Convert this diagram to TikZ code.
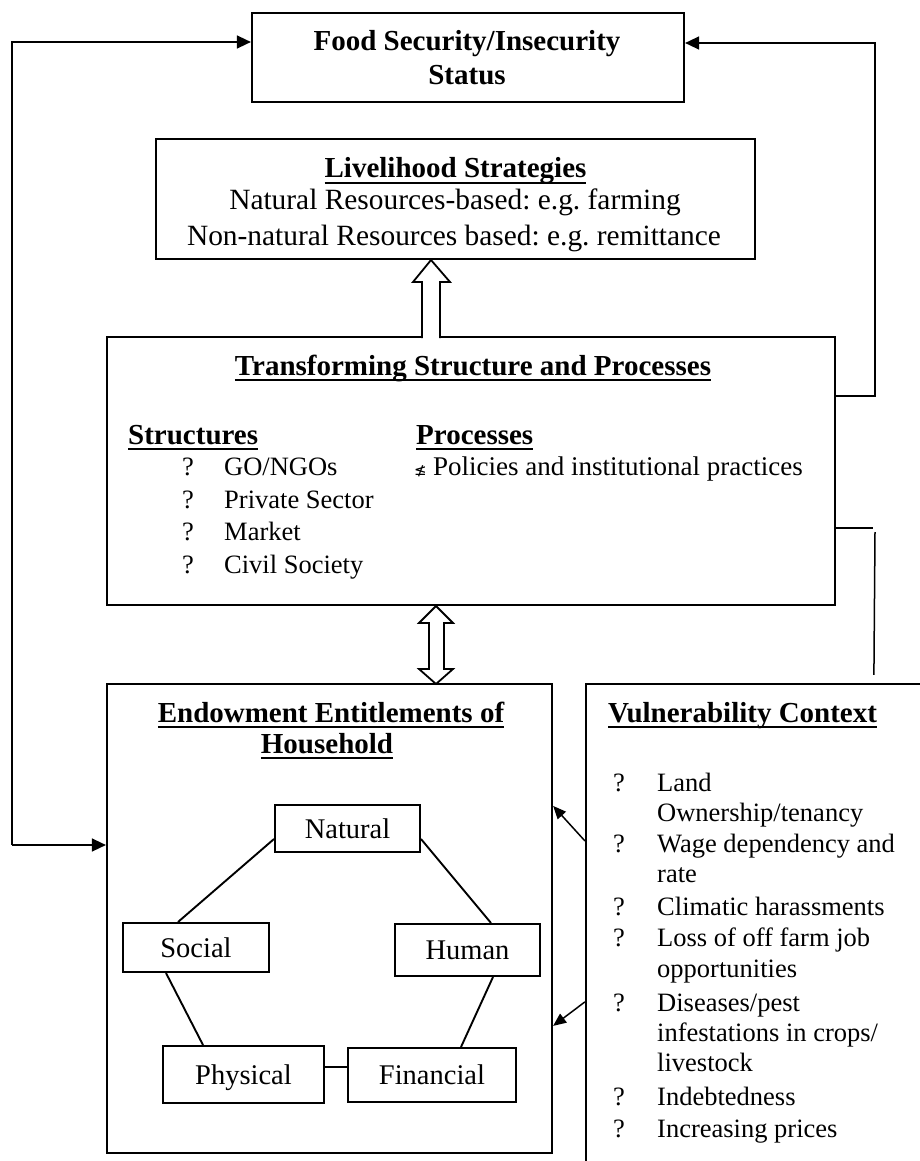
\documentclass[tikz,border=0pt]{standalone}
\usepackage{fontspec}
\setmainfont{Liberation Serif}
\newfontfamily\symfont{DejaVu Sans}
\usetikzlibrary{arrows.meta,calc}
\newcommand\ulx[1]{\setbox0=\hbox{#1}\rlap{\rule[-6pt]{\wd0}{2.2pt}}\box0}
\frenchspacing
\begin{document}
\begin{tikzpicture}[x=1pt,y=-1pt,line join=miter,
  box/.style={draw,line width=2.2pt,inner sep=0pt},
  inbox/.style={draw,line width=2pt,inner sep=0pt,font=\fontsize{28.5}{34}\selectfont\frenchspacing,text height=19pt,text depth=0pt},
  ttl/.style={font=\fontsize{29}{34}\selectfont\bfseries,anchor=base,inner sep=0pt},
  ttlw/.style={font=\fontsize{29}{34}\selectfont\bfseries,anchor=base west,inner sep=0pt},
  big/.style={font=\fontsize{29.4}{34}\selectfont\frenchspacing,anchor=base,inner sep=0pt},
  txt/.style={font=\fontsize{26.5}{30}\selectfont,anchor=base west,inner sep=0pt},
  link/.style={line width=1.9pt},
  fb/.style={line width=1.5pt,-{Triangle[length=14pt,width=13pt]}},
  vb/.style={line width=1.5pt,-{Triangle[length=13pt,width=11pt]}},
  hollow/.style={draw,line width=1.8pt,fill=white}]
\useasboundingbox (0,0) rectangle (920,1161);
\clip (0,0) rectangle (920,1161);
\fill[white] (0,0) rectangle (920,1161);

% main boxes
\node[box,minimum width=432pt,minimum height=89pt] (food) at (468,57.5) {};
\node[box,minimum width=599pt,minimum height=120pt] (live) at (455.5,199) {};
\node[box,minimum width=728pt,minimum height=268pt] (trans) at (471,471) {};
\node[box,minimum width=445pt,minimum height=469pt] (endow) at (329.5,918.5) {};
\node[box,minimum width=354pt,minimum height=501pt] (vul) at (763,934.5) {};

% food text
\node[ttl] (foodt1) at (467,51) {Food Security/Insecurity};
\node[ttl] (foodt2) at (467,85) {Status};

% livelihood text
\node[ttl] (livet) at (455.5,178) {\ulx{Livelihood Strategies}};
\node[big] (livel1) at (455,209) {Natural Resources-based: e.g. farming};
\node[big] (livel2) at (454,245) {Non-natural Resources based: e.g. remittance};

% transforming text
\node[ttl] (transt) at (473,375) {\ulx{Transforming Structure and Processes}};
\node[ttlw] (struct) at (128,444) {\ulx{Structures}};
\node[ttlw] (proc) at (416,444) {\ulx{Processes}};
\node[txt] (q1) at (182,475) {?};
\node[txt] (s1) at (224,475) {GO/NGOs};
\node[txt] (q2) at (182,508) {?};
\node[txt] (s2) at (224,508) {Private Sector};
\node[txt] (q3) at (182,540) {?};
\node[txt] (s3) at (224,540) {Market};
\node[txt] (q4) at (182,573) {?};
\node[txt] (s4) at (224,573) {Civil Society};
\node[anchor=base west,inner sep=0pt,font=\symfont\fontsize{15}{17}\selectfont] (pen) at (414,475) {≰};
\node[txt,font=\fontsize{27}{30}\selectfont] (p1) at (433,475) {Policies and institutional practices};

% endowment text
\node[ttl] (endt1) at (331,722) {\ulx{Endowment Entitlements of}};
\node[ttl] (endt2) at (327,753) {\ulx{Household}};

% capital boxes
\node[inbox,minimum width=145pt,minimum height=47pt] (nat) at (347.5,828.5) {Natural};
\node[inbox,minimum width=146pt,minimum height=49pt] (soc) at (196,947.5) {Social};
\node[inbox,minimum width=145pt,minimum height=52pt] (hum) at (467.5,950) {Human};
\node[inbox,minimum width=161pt,minimum height=57pt] (phy) at (243.5,1074.5) {Physical};
\node[inbox,minimum width=168pt,minimum height=54pt] (fin) at (432,1075) {Financial};

\draw[link] ($(nat.south west)+(0,-14)$) -- ($(soc.north west)+(56,0)$);
\draw[link] ($(nat.south east)+(0,-14)$) -- ($(hum.north west)+(97,0)$);
\draw[link] ($(soc.south west)+(44,0)$) -- ($(phy.north west)+(41,0)$);
\draw[link] ($(hum.south west)+(99,0)$) -- ($(fin.north west)+(114,0)$);
\draw[link] ($(phy.north east)+(0,22)$) -- ($(fin.north west)+(0,20)$);

% vulnerability text
\node[ttlw] (vult) at (608,722) {\ulx{Vulnerability Context}};
\node[txt] (vq1) at (613,791) {?};
\node[txt] (v1a) at (657,791) {Land};
\node[txt] (v1b) at (657,821) {Ownership/tenancy};
\node[txt] (vq2) at (613,852) {?};
\node[txt] (v2a) at (657,852) {Wage dependency and};
\node[txt] (v2b) at (657,882) {rate};
\node[txt] (vq3) at (613,915) {?};
\node[txt] (v3) at (657,915) {Climatic harassments};
\node[txt] (vq4) at (613,946) {?};
\node[txt] (v4a) at (657,946) {Loss of off farm job};
\node[txt] (v4b) at (657,977) {opportunities};
\node[txt] (vq5) at (613,1011) {?};
\node[txt] (v5a) at (657,1011) {Diseases/pest};
\node[txt] (v5b) at (657,1041) {infestations in crops/};
\node[txt] (v5c) at (657,1071) {livestock};
\node[txt] (vq6) at (613,1105) {?};
\node[txt] (v6) at (657,1105) {Indebtedness};
\node[txt] (vq7) at (613,1137) {?};
\node[txt] (v7) at (657,1137) {Increasing prices};

% hollow arrows
\draw[hollow] (422,338) -- (422,282) -- (413,282) -- (431,260) -- (450,282) -- (440,282) -- (440,338);
\draw[hollow] (436,606) -- (453,623) -- (444,623) -- (444,669) -- (453,669) -- (436,684)
  -- (419,669) -- (429,669) -- (429,623) -- (419,623) -- cycle;

% feedback connectors
\coordinate (lt) at (12,42);
\coordinate (lb) at (12,845);
\draw[fb] (lb) -- (lt) -- (lt -| food.west);
\draw[fb] (lt |- lb) -- (lb -| endow.west);
\coordinate (rt) at (875,43);
\coordinate (rb) at (875,396);
\draw[fb] (trans.east |- rb) -- (rb) -- (rt) -- (rt -| food.east);
\coordinate (v1) at (873,528);
\coordinate (v2) at (875,532);
\draw[line width=1.5pt] ($(trans.east |- v1)+(-2,0)$) -- (v1);
\draw[line width=1.5pt] (v2) -- ($(vul.north west)+(289,-8)$);

% vulnerability arrows
\draw[vb] ($(vul.north west)+(0,158)$) -- ($(endow.north east)+(0,123)$);
\draw[vb] ($(vul.north west)+(0,319)$) -- ($(endow.north east)+(0,343)$);
\end{tikzpicture}
\end{document}
